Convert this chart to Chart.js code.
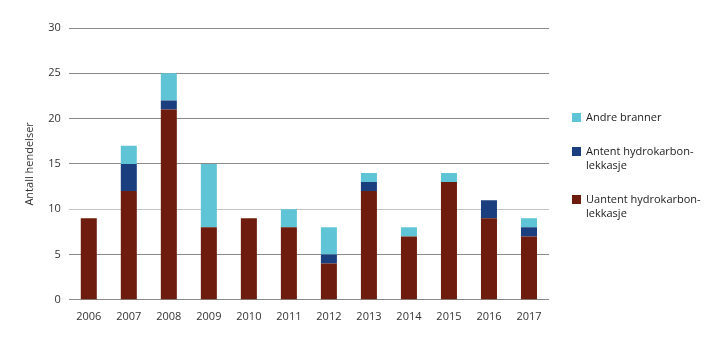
<!DOCTYPE html>
<html>
<head>
<meta charset="utf-8">
<script src="https://cdn.jsdelivr.net/npm/chart.js@4/dist/chart.umd.min.js"></script>
<style>
  body { margin: 0; background: #fff; font-family: "Open Sans", sans-serif; }
  .wrap { position: relative; width: 719px; height: 341px; }
  .legend { position: absolute; left: 572px; top: 110px; font-size: 11px; color: #222; line-height: 14px; }
  .legend .item { position: relative; padding-left: 14px; margin-bottom: 20px; }
  .legend .box { position: absolute; left: 0; top: 3px; width: 9px; height: 9px; }
</style>
</head>
<body>
<div class="wrap">
  <canvas id="chart" width="719" height="341"></canvas>
  <div class="legend" id="legend"></div>
</div>
<script>
document.addEventListener("DOMContentLoaded", () => {
  const years = ["2006", "2007", "2008", "2009", "2010", "2011", "2012", "2013", "2014", "2015", "2016", "2017"];
  const uantent = [9, 12, 21, 8, 9, 8, 4, 12, 7, 13, 9, 7];
  const antent = [0, 3, 1, 0, 0, 0, 1, 1, 0, 0, 2, 1];
  const andre = [0, 2, 3, 7, 0, 2, 3, 1, 1, 1, 0, 1];

  const colors = { uantent: "#6e1c0d", antent: "#1b3f7e", andre: "#5fc4d6" };

  new Chart(document.getElementById("chart"), {
    type: "bar",
    data: {
      labels: years,
      datasets: [
        { label: "Uantent hydrokarbonlekkasje", data: uantent, backgroundColor: colors.uantent },
        { label: "Antent hydrokarbonlekkasje", data: antent, backgroundColor: colors.antent },
        { label: "Andre branner", data: andre, backgroundColor: colors.andre },
      ],
    },
    options: {
      responsive: false,
      animation: false,
      layout: { padding: { left: 19, right: 170, top: 28, bottom: 16 } },
      datasets: { bar: { barPercentage: 0.4, categoryPercentage: 1 } },
      plugins: { legend: { display: false }, tooltip: { enabled: false } },
      scales: {
        x: {
          stacked: true,
          grid: { display: false },
          border: { display: false },
          ticks: { color: "#333", font: { family: "Open Sans", size: 11 }, padding: 2 },
        },
        y: {
          stacked: true,
          min: 0,
          max: 30,
          ticks: { stepSize: 5, color: "#333", font: { family: "Open Sans", size: 11 }, padding: 8 },
          grid: {
            drawTicks: false,
            color: (ctx) => (ctx.tick && ctx.tick.value === 10 ? "#c4c4c4" : "#8a8a8a"),
          },
          border: { display: false },
          title: { display: true, text: "Antall hendelser", color: "#333", font: { family: "Open Sans", size: 11 }, padding: 4 },
        },
      },
    },
  });

  // Legend on the right, top item first
  const legendItems = [
    { label: "Andre branner", color: colors.andre },
    { label: "Antent hydrokarbon-<br>lekkasje", color: colors.antent },
    { label: "Uantent hydrokarbon-<br>lekkasje", color: colors.uantent },
  ];
  const legend = document.getElementById("legend");
  legendItems.forEach((item) => {
    const div = document.createElement("div");
    div.className = "item";
    div.innerHTML = `<span class="box" style="background:${item.color}"></span>${item.label}`;
    legend.appendChild(div);
  });
});
</script>
</body>
</html>
